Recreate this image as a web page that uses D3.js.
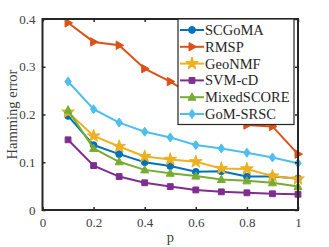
<!DOCTYPE html>
<html><head><meta charset="utf-8">
<script src="https://cdn.jsdelivr.net/npm/d3@7"></script>
<style>body{margin:0;background:#fff}svg{display:block}text{font-family:"Liberation Serif","Times New Roman",serif}</style>
</head><body>
<svg id="c" width="329" height="247"></svg>
<script>
const pValues = [0.1,0.2,0.3,0.4,0.5,0.6,0.7,0.8,0.9,1.0];
const seriesNames = ["SCGoMA","RMSP","GeoNMF","SVM-cD","MixedSCORE","GoM-SRSC"];
const scgoma     = [0.197,0.136,0.117,0.100,0.092,0.080,0.081,0.070,0.070,0.066];
const rmsp       = [0.392,0.352,0.345,0.296,0.269,0.236,0.210,0.178,0.175,0.117];
const geonmf     = [0.205,0.155,0.133,0.112,0.106,0.101,0.087,0.086,0.071,0.065];
const svmcd      = [0.147,0.093,0.070,0.057,0.049,0.042,0.038,0.036,0.034,0.033];
const mixedscore = [0.209,0.129,0.101,0.084,0.077,0.071,0.064,0.061,0.057,0.049];
const gomsrsc    = [0.269,0.211,0.183,0.164,0.152,0.136,0.129,0.120,0.110,0.098];
const xTicks = [0,0.2,0.4,0.6,0.8,1];
const yTicks = [0,0.1,0.2,0.3,0.4];
const colors = ["#0072BD","#D95319","#EDB120","#7E2F8E","#77AC30","#4DBEEE"];
const markers = ["circle","triRight","star","square","triUp","diamond"];
const allSeries = [scgoma,rmsp,geonmf,svmcd,mixedscore,gomsrsc];

const svg = d3.select("#c");
const L=42.5,R=298,T=19,B=210;
const x = d3.scaleLinear().domain([0,1]).range([L,R]);
const y = d3.scaleLinear().domain([0,0.4]).range([B,T]);
const font = "Liberation Serif";
const axCol = "#262626";

function sym(type){
  switch(type){
    case "circle": return d3.symbol(d3.symbolCircle,36)();
    case "square": return d3.symbol(d3.symbolSquare,34)();
    case "diamond": return "M0,-4.5L3.2,0L0,4.5L-3.2,0Z";
    case "star": return d3.symbol(d3.symbolStar,50)();
    case "triUp": return "M0,-4.2L4,3L-4,3Z";
    case "triRight": return "M4.5,0L-3,-4.2L-3,4.2Z";
  }
}

const line = d3.line().x((d,i)=>x(pValues[i])).y(d=>y(d));
allSeries.forEach((s,k)=>{
  const g = svg.append("g");
  g.append("path").attr("d",line(s)).attr("fill","none").attr("stroke",colors[k]).attr("stroke-width",2);
  g.selectAll("path.m").data(s).enter().append("path").attr("class","m")
    .attr("d",sym(markers[k]))
    .attr("transform",(d,i)=>`translate(${x(pValues[i])},${y(d)})`)
    .attr("fill",colors[k]).attr("stroke",colors[k]).attr("stroke-width",1);
});

svg.append("g").attr("transform",`translate(0,${B})`)
  .call(d3.axisBottom(x).tickValues(xTicks).tickFormat(d=>d3.format("")(d)).tickSizeInner(-3).tickSizeOuter(0).tickPadding(8));
svg.append("g").attr("transform",`translate(${L},0)`)
  .call(d3.axisLeft(y).tickValues(yTicks).tickFormat(d=>d3.format("")(d)).tickSizeInner(-3).tickSizeOuter(0).tickPadding(7));
svg.append("g").attr("transform",`translate(0,${T})`)
  .call(d3.axisTop(x).tickValues(xTicks).tickFormat("").tickSizeInner(-3).tickSizeOuter(0));
svg.append("g").attr("transform",`translate(${R},0)`)
  .call(d3.axisRight(y).tickValues(yTicks).tickFormat("").tickSizeInner(-3).tickSizeOuter(0));
svg.selectAll(".domain").remove();
svg.selectAll(".tick line").attr("stroke",axCol).attr("stroke-width",1.5);
svg.selectAll(".tick text").attr("font-family",font).attr("font-size",13).attr("fill","#404040");
svg.selectAll("g").attr("font-family",font);
svg.append("rect").attr("x",L).attr("y",T).attr("width",R-L).attr("height",B-T)
  .attr("fill","none").attr("stroke",axCol).attr("stroke-width",2);

svg.append("text").attr("x",(L+R)/2).attr("y",242).attr("text-anchor","middle")
  .attr("font-family",font).attr("font-size",14.5).attr("fill","#404040").text("p");
svg.append("text").attr("transform",`translate(17,${(T+B)/2}) rotate(-90)`).attr("text-anchor","middle")
  .attr("font-family",font).attr("font-size",14.5).attr("fill","#404040").text("Hamming error");

const lg = svg.append("g");
const lx=178, ly=19, lw=116, lh=105.5;
lg.append("rect").attr("x",lx).attr("y",ly).attr("width",lw).attr("height",lh)
  .attr("fill","#fff").attr("stroke",axCol).attr("stroke-width",1.2);
seriesNames.forEach((n,k)=>{
  const yy = 30 + k*16.8;
  lg.append("line").attr("x1",lx+2).attr("x2",lx+26).attr("y1",yy).attr("y2",yy)
    .attr("stroke",colors[k]).attr("stroke-width",2);
  lg.append("path").attr("d",sym(markers[k])).attr("transform",`translate(${lx+14},${yy})`)
    .attr("fill",colors[k]).attr("stroke",colors[k]);
  lg.append("text").attr("x",lx+27).attr("y",yy+5).attr("font-family",font).attr("font-size",14.5)
    .attr("fill","#262626").text(n);
});
</script>
</body></html>
